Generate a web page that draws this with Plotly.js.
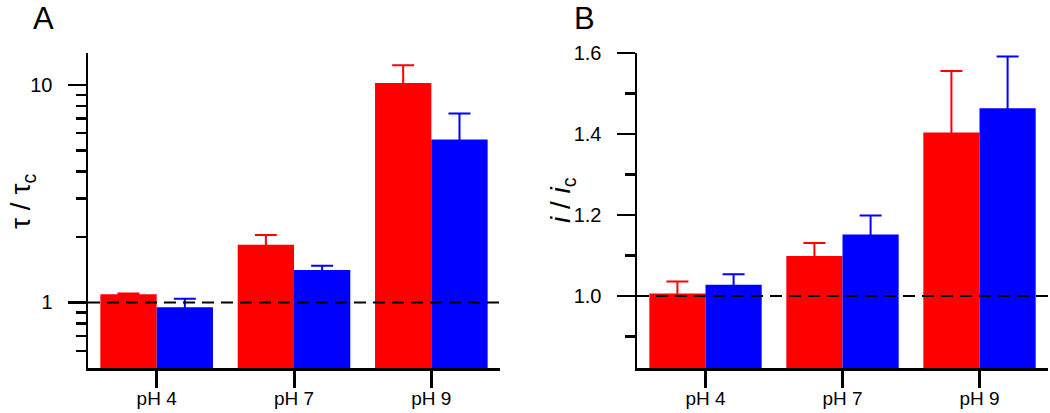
<!DOCTYPE html>
<html>
<head>
<meta charset="utf-8">
<script src="https://cdn.plot.ly/plotly-3.0.1.min.js"></script>
<style>html,body{margin:0;padding:0;background:#fff;}#chart{width:1050px;height:413px;}</style>
</head>
<body>
<div id="chart"></div>
<script>
// ---- data ----
const categories = ["pH 4", "pH 7", "pH 9"];
// Panel A: tau / tau_c (log scale)
const tauRed = [1.09, 1.84, 10.2];
const tauRedErr = [0.01, 0.20, 2.1];
const tauBlue = [0.95, 1.41, 5.61];
const tauBlueErr = [0.09, 0.065, 1.78];
// Panel B: i / i_c
const curRed = [1.006, 1.099, 1.404];
const curRedErr = [0.030, 0.032, 0.152];
const curBlue = [1.028, 1.152, 1.464];
const curBlueErr = [0.026, 0.047, 0.128];
// axis ticks
const tauTickVals = [1, 10];
const tauTickText = ["1", "10"];
const tauMinorVals = [0.6, 0.7, 0.8, 0.9, 2, 3, 4, 5, 6, 7, 8, 9];
const curTickVals = [1.0, 1.2, 1.4, 1.6];
const curMinorVals = [0.9, 1.1, 1.3, 1.5];
const referenceLevel = 1;

const RED = "#ff0000", BLUE = "#0000ff";
const FONT = "Liberation Sans, Arial, sans-serif";

function barTrace(y, err, color, xa, ya) {
  return {
    type: "bar", x: categories, y: y, xaxis: xa, yaxis: ya,
    marker: {color: color, line: {width: 0}},
    // lower half of the (symmetric) error bar lies hidden inside the bar
    error_y: {type: "data", symmetric: true, array: err,
              color: color, thickness: 2, width: 11},
    showlegend: false, hoverinfo: "skip"
  };
}

const traces = [
  barTrace(tauRed, tauRedErr, RED, "x", "y"),
  barTrace(tauBlue, tauBlueErr, BLUE, "x", "y"),
  barTrace(curRed, curRedErr, RED, "x2", "y2"),
  barTrace(curBlue, curBlueErr, BLUE, "x2", "y2")
];

const W = 1050, H = 413;
const px = v => v / W, py = v => 1 - v / H;

const xCommon = {
  type: "category", range: [-0.5, 2.5], showline: true, linecolor: "#000", linewidth: 2.5,
  ticks: "outside", ticklen: 17, tickwidth: 3, tickcolor: "#000",
  showgrid: false, zeroline: false, tickfont: {family: FONT, size: 19, color: "#000"},
  ticklabelstandoff: -5, fixedrange: true
};
const yCommon = {
  showline: true, linecolor: "#000", linewidth: 2.5,
  ticks: "outside", ticklen: 18, tickwidth: 2.5, tickcolor: "#000",
  showgrid: false, zeroline: false, tickfont: {family: FONT, size: 20, color: "#000"},
  ticklabelstandoff: 11, fixedrange: true
};

const layout = {
  width: W, height: H,
  margin: {l: 0, r: 0, t: 0, b: 0},
  paper_bgcolor: "#fff", plot_bgcolor: "#fff",
  barmode: "group", bargap: 0.18, bargroupgap: 0,
  font: {family: FONT, color: "#000"},
  xaxis: Object.assign({}, xCommon, {domain: [px(88), px(500)], anchor: "y"}),
  xaxis2: Object.assign({}, xCommon, {domain: [px(637), px(1048)], anchor: "y2"}),
  yaxis: Object.assign({}, yCommon, {
    domain: [py(368), py(53)], anchor: "x", type: "log",
    range: [Math.log10(0.5), Math.log10(14)],
    tickmode: "array", tickvals: tauTickVals, ticktext: tauTickText,
    minor: {tickmode: "array", tickvals: tauMinorVals, ticks: "outside", ticklen: 10, tickwidth: 2.5, tickcolor: "#000", showgrid: false}
  }),
  yaxis2: Object.assign({}, yCommon, {
    domain: [py(368), py(53)], anchor: "x2",
    range: [0.822, 1.6005],
    tickmode: "array", tickvals: curTickVals, ticktext: curTickVals.map(v => v.toFixed(1)),
    minor: {tickmode: "array", tickvals: curMinorVals, ticks: "outside", ticklen: 10, tickwidth: 2.5, tickcolor: "#000", showgrid: false}
  }),
  shapes: [
    {type: "line", xref: "x domain", yref: "y", x0: 0, x1: 1, y0: referenceLevel, y1: referenceLevel,
     line: {color: "#000", width: 2, dash: "12px,7px"}},
    {type: "line", xref: "x2 domain", yref: "y2", x0: 0, x1: 1, y0: referenceLevel, y1: referenceLevel,
     line: {color: "#000", width: 2, dash: "12px,7px"}}
  ],
  annotations: [
    {text: "A", xref: "paper", yref: "paper", x: px(43), y: 1, xanchor: "center", yanchor: "top", borderpad: 0,
     showarrow: false, font: {family: FONT, size: 31, color: "#000"}},
    {text: "B", xref: "paper", yref: "paper", x: px(584), y: 1, xanchor: "center", yanchor: "top", borderpad: 0,
     showarrow: false, font: {family: FONT, size: 31, color: "#000"}},
    {text: "τ / τ<sub>c</sub>", xref: "paper", yref: "paper", x: px(22), y: py(202), xanchor: "center", yanchor: "middle",
     textangle: -90, showarrow: false, font: {family: FONT, size: 28, color: "#000"}},
    {text: "<i>i</i> / <i>i</i><sub>c</sub>", xref: "paper", yref: "paper", x: px(563), y: py(200), xanchor: "center", yanchor: "middle",
     textangle: -90, showarrow: false, font: {family: FONT, size: 28, color: "#000"}}
  ]
};

Plotly.newPlot("chart", traces, layout, {staticPlot: true, displayModeBar: false});
</script>
</body>
</html>
